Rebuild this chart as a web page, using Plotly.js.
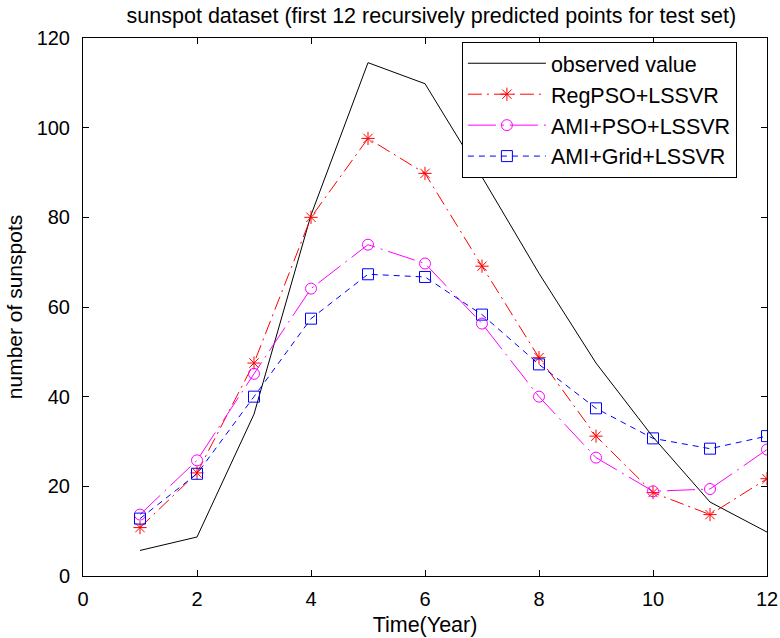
<!DOCTYPE html>
<html>
<head>
<meta charset="utf-8">
<script src="https://cdn.plot.ly/plotly-3.0.1.min.js"></script>
<style>html,body{margin:0;padding:0;background:#fff}#chart{width:780px;height:638px}</style>
</head>
<body>
<div id="chart"></div>
<script>
const years = [1, 2, 3, 4, 5, 6, 7, 8, 9, 10, 11, 12];
const observed = [5.7, 8.7, 36.1, 80.5, 114.5, 109.8, 89.0, 67.5, 47.5, 31.0, 16.5, 9.8];
const regPso = [10.8, 23.0, 47.5, 80.0, 97.6, 89.8, 69.1, 48.7, 31.2, 18.6, 13.7, 21.7];
const amiPso = [13.7, 25.8, 45.1, 64.1, 73.9, 69.7, 56.3, 40.0, 26.4, 18.9, 19.4, 28.2];
const amiGrid = [12.8, 22.8, 40.0, 57.4, 67.3, 66.7, 58.3, 47.2, 37.4, 30.7, 28.4, 31.2];
const xTicks = [0, 2, 4, 6, 8, 10, 12];
const yTicks = [0, 20, 40, 60, 80, 100, 120];

const FONT = '"Liberation Sans", Arial, Helvetica, sans-serif';

const traces = [
  {x: years, y: observed, name: 'observed value', mode: 'lines',
   line: {color: '#000000', width: 1}},
  {x: years, y: regPso, name: 'RegPSO+LSSVR', mode: 'lines+markers',
   line: {color: '#ff0000', width: 1, dash: '14px,5px,2px,5px'},
   marker: {symbol: 'asterisk-open', size: 11, color: '#ff0000', line: {color: '#ff0000', width: 1}}},
  {x: years, y: amiPso, name: 'AMI+PSO+LSSVR', mode: 'lines+markers',
   line: {color: '#ff00ff', width: 1, dash: '28px,6px,2px,6px'},
   marker: {symbol: 'circle-open', size: 11, color: '#ff00ff', line: {color: '#ff00ff', width: 1}}},
  {x: years, y: amiGrid, name: 'AMI+Grid+LSSVR', mode: 'lines+markers',
   line: {color: '#0000ff', width: 1, dash: '6px,5px'},
   marker: {symbol: 'square-open', size: 11, color: '#0000ff', line: {color: '#0000ff', width: 1}}}
];

const layout = {
  width: 780, height: 638,
  margin: {l: 83, r: 13, t: 38, b: 62, pad: 0},
  paper_bgcolor: '#ffffff', plot_bgcolor: '#ffffff',
  font: {family: FONT, color: '#000000', size: 20},
  title: {text: 'sunspot dataset (first 12 recursively predicted points for test set)',
          font: {family: FONT, size: 21.5, color: '#000000'},
          x: 0.553, xanchor: 'center', y: 0.975, yanchor: 'middle', yref: 'container'},
  xaxis: {range: [0, 12], tickvals: xTicks, ticktext: xTicks.map(String),
          ticks: 'inside', ticklen: 6, tickcolor: '#000', tickwidth: 1,
          showline: true, linecolor: '#000', linewidth: 1, mirror: 'ticks',
          showgrid: false, zeroline: false, ticklabelstandoff: 5,
          tickfont: {family: FONT, size: 20, color: '#000'},
          title: {text: 'Time(Year)', font: {family: FONT, size: 21.5, color: '#000'}, standoff: 7}},
  yaxis: {range: [0, 120], tickvals: yTicks, ticktext: yTicks.map(String),
          ticks: 'inside', ticklen: 6, tickcolor: '#000', tickwidth: 1,
          showline: true, linecolor: '#000', linewidth: 1, mirror: 'ticks',
          showgrid: false, zeroline: false, ticklabelstandoff: 8,
          tickfont: {family: FONT, size: 20, color: '#000'},
          title: {text: 'number of sunspots', font: {family: FONT, size: 21, color: '#000'}, standoff: 8}},
  showlegend: true,
  legend: {x: 0.956, xanchor: 'right', y: 0.993, yanchor: 'top',
           bgcolor: '#ffffff', bordercolor: '#000000', borderwidth: 1,
           font: {family: FONT, size: 21.5, color: '#000'}, itemwidth: 78,
           tracegroupgap: 0}
};

Plotly.newPlot('chart', traces, layout, {displayModeBar: false, staticPlot: true});
</script>
</body>
</html>
